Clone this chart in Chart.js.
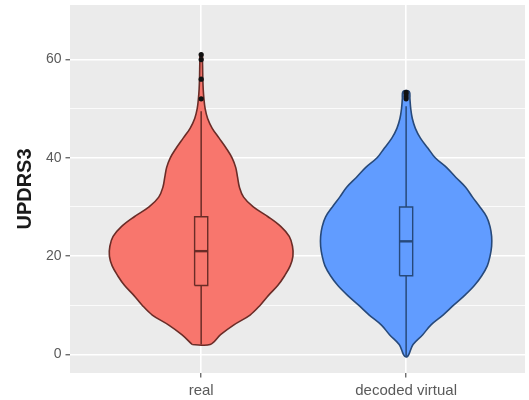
<!DOCTYPE html>
<html>
<head>
<meta charset="utf-8">
<script src="https://cdn.jsdelivr.net/npm/chart.js@4/dist/chart.umd.min.js"></script>
<style>
  html, body { margin: 0; padding: 0; background: #ffffff; }
</style>
</head>
<body>
<canvas id="chart" width="529" height="400"></canvas>
<script>
// Groups on the x axis
const categories = ['real', 'decoded virtual'];

// Kernel-density outline of each group: evaluation levels (UPDRS3) and relative density (peak = 1)
const realLevels   = [2, 4, 6, 8, 10, 12, 14, 16, 18, 20, 22, 24, 26, 28, 30, 32, 34, 36, 38, 40, 42, 44, 46, 48, 50, 52, 54, 56, 58, 60, 61];
const realDensity  = [0.097, 0.21, 0.355, 0.53, 0.64, 0.73, 0.83, 0.905, 0.965, 0.995, 0.99, 0.955, 0.865, 0.725, 0.565, 0.46, 0.415, 0.395, 0.375, 0.335, 0.27, 0.195, 0.12, 0.07, 0.043, 0.03, 0.022, 0.018, 0.016, 0.014, 0.013];

const virtualLevels  = [-0.5, 0, 2, 4, 6, 8, 10, 12, 14, 16, 18, 20, 22, 24, 26, 28, 30, 32, 34, 36, 38, 40, 42, 44, 46, 48, 50, 52, 53.5];
const virtualDensity = [0.01, 0.03, 0.075, 0.18, 0.27, 0.4, 0.515, 0.635, 0.74, 0.82, 0.88, 0.91, 0.927, 0.927, 0.91, 0.873, 0.8, 0.72, 0.645, 0.54, 0.44, 0.315, 0.235, 0.155, 0.1, 0.067, 0.05, 0.041, 0.034];

// Box-plot summaries: lower whisker, Q1, median, Q3, upper whisker
const realBox    = [2, 14, 21, 28, 49.5];
const virtualBox = [-0.5, 16, 23, 30, 50.5];

// Points beyond the whiskers
const realOutliers    = [52, 56, 60, 61];
const virtualOutliers = [52, 52.5, 53, 53.3];

// Axis breaks
const yMajorTicks = [0, 20, 40, 60];
const yMinorTicks = [10, 30, 50];

const FILLS   = ['#F8766D', '#619CFF'];
const STROKES = ['#6a2c27', '#27497a'];
const VIOLIN_HALF = 0.45;   // half of the violin width at peak density, x units
const BOX_HALF = 0.032;     // half of the box width, x units

function violinPath(pos, levels, dens) {
  const pts = [];
  for (let i = 0; i < levels.length; i++) pts.push({ x: pos - dens[i] * VIOLIN_HALF, y: levels[i] });
  for (let i = levels.length - 1; i >= 0; i--) pts.push({ x: pos + dens[i] * VIOLIN_HALF, y: levels[i] });
  pts.push({ ...pts[0] });
  return pts;
}

function boxPath(pos, box) {
  const [, q1, , q3] = box;
  return [
    { x: pos - BOX_HALF, y: q1 }, { x: pos + BOX_HALF, y: q1 },
    { x: pos + BOX_HALF, y: q3 }, { x: pos - BOX_HALF, y: q3 },
    { x: pos - BOX_HALF, y: q1 }
  ];
}

function groupDatasets(idx, levels, dens, box, outliers) {
  const pos = idx + 1;
  const fill = FILLS[idx], stroke = STROKES[idx];
  const base = { showLine: true, pointRadius: 0, pointHoverRadius: 0 };
  return [
    { ...base, data: violinPath(pos, levels, dens), fill: 'shape', backgroundColor: fill,
      borderColor: stroke, borderWidth: 1.6, tension: 0.35, order: 5 },
    { ...base, data: [{ x: pos, y: box[0] }, { x: pos, y: box[1] }], borderColor: stroke,
      borderWidth: 1.5, fill: false, order: 4 },
    { ...base, data: [{ x: pos, y: box[3] }, { x: pos, y: box[4] }], borderColor: stroke,
      borderWidth: 1.5, fill: false, order: 4 },
    { ...base, data: boxPath(pos, box), fill: 'shape', backgroundColor: fill,
      borderColor: stroke, borderWidth: 1.4, tension: 0, order: 3 },
    { ...base, data: [{ x: pos - BOX_HALF, y: box[2] }, { x: pos + BOX_HALF, y: box[2] }],
      borderColor: stroke, borderWidth: 2.4, fill: false, order: 2 },
    { showLine: false, data: outliers.map(v => ({ x: pos, y: v })), pointRadius: 2.6,
      pointBackgroundColor: '#111111', pointBorderWidth: 0, order: 1 }
  ];
}

const panelBackground = {
  id: 'panelBackground',
  beforeDraw(chart) {
    const { ctx, chartArea: a } = chart;
    ctx.save();
    ctx.fillStyle = '#EBEBEB';
    ctx.fillRect(a.left, a.top, a.right - a.left, a.bottom - a.top);
    ctx.restore();
  }
};

new Chart(document.getElementById('chart'), {
  type: 'scatter',
  data: {
    datasets: [
      ...groupDatasets(0, realLevels, realDensity, realBox, realOutliers),
      ...groupDatasets(1, virtualLevels, virtualDensity, virtualBox, virtualOutliers)
    ]
  },
  options: {
    responsive: false,
    animation: false,
    events: [],
    layout: { padding: { left: 0, right: 4, top: 5, bottom: 0 } },
    plugins: { legend: { display: false }, tooltip: { enabled: false } },
    scales: {
      x: {
        type: 'linear',
        min: 0.36,
        max: 2.58,
        afterBuildTicks(scale) { scale.ticks = categories.map((_, i) => ({ value: i + 1 })); },
        afterFit(scale) { scale.height = 27; scale.paddingLeft = 0; scale.paddingRight = 0; },
        border: { display: false },
        grid: { color: '#FFFFFF', lineWidth: 1.6, tickColor: '#333333', tickLength: 4.5, tickWidth: 1 },
        ticks: {
          padding: 4,
          color: '#5a5a5a',
          font: { family: 'Liberation Sans, Arial, sans-serif', size: 15 },
          maxRotation: 0,
          callback: (v) => categories[Math.round(v) - 1] ?? ''
        }
      },
      y: {
        type: 'linear',
        min: -3.8,
        max: 71.1,
        afterBuildTicks(scale) {
          scale.ticks = [...yMajorTicks, ...yMinorTicks].sort((a, b) => a - b).map(v => ({ value: v }));
        },
        afterFit(scale) { scale.width = 70; scale.paddingTop = 0; scale.paddingBottom = 0; },
        border: { display: false },
        grid: {
          color: '#FFFFFF',
          lineWidth: (c) => (yMajorTicks.includes(c.tick.value) ? 1.6 : 0.8),
          tickColor: (c) => (yMajorTicks.includes(c.tick.value) ? '#333333' : 'rgba(0,0,0,0)'),
          tickLength: 4.5,
          tickWidth: 1
        },
        ticks: {
          padding: 4,
          color: '#5a5a5a',
          font: { family: 'Liberation Sans, Arial, sans-serif', size: 14 },
          callback: (v) => (yMajorTicks.includes(v) ? String(v) : '')
        },
        title: {
          display: true,
          text: 'UPDRS3',
          color: '#1a1a1a',
          padding: { top: 13, bottom: 0 },
          font: { family: 'Liberation Sans, Arial, sans-serif', size: 20, weight: 'bold' }
        }
      }
    }
  },
  plugins: [panelBackground]
});
</script>
</body>
</html>
